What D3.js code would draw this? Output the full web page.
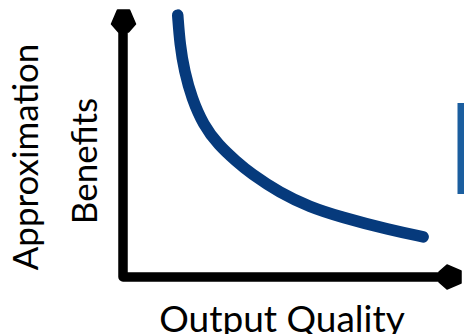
<!DOCTYPE html>
<html>
<head>
<meta charset="utf-8">
<script src="https://cdn.jsdelivr.net/npm/d3@7"></script>
<style>
  body { margin: 0; background: #fff; }
  svg { display: block; }
  .label { font-family: Lato, "Noto Sans", sans-serif; font-size: 35px; fill: #000; }
  .xtitle { font-size: 37px; }
</style>
</head>
<body>
<svg width="464" height="334"></svg>
<script>
// output quality vs approximation benefits (0-100 scale)
const quality = [17.1, 17.8, 19.2, 21.5, 25.1, 29.8, 35.5, 39.7, 49.1, 58.4, 67.8, 83.4, 93.8];
const benefit = [99.2, 87.9, 77.8, 67.7, 57.6, 50.0, 43.7, 39.4, 31.8, 26.5, 22.8, 17.8, 15.2];
const xTitle = "Output Quality";
const yTitle = ["Approximation", "Benefits"];

const svg = d3.select("svg");

const x = d3.scaleLinear().domain([0, 100]).range([123, 443]);
const y = d3.scaleLinear().domain([0, 100]).range([277, 13]);

// axes: one L shaped stroke with a rounded corner
const axisPath = d3.path();
axisPath.moveTo(x(0), y(93));
axisPath.lineTo(x(0), y(0));
axisPath.lineTo(x(99), y(0));
svg.append("path")
  .attr("d", axisPath.toString())
  .attr("fill", "none")
  .attr("stroke", "#000")
  .attr("stroke-width", 9.5)
  .attr("stroke-linejoin", "round");

// arrowheads (office style blunt diamond)
const head = "M-6,0 L6,0 L12,14 L5,22 L-5,22 L-12,14 Z";
svg.append("path")
  .attr("d", head)
  .attr("transform", `translate(${x(0) + 0.5},10)`)
  .attr("fill", "#000")
  .attr("stroke", "#000")
  .attr("stroke-width", 1.5)
  .attr("stroke-linejoin", "round");
svg.append("path")
  .attr("d", head)
  .attr("transform", `translate(461,${y(0)}) rotate(90)`)
  .attr("fill", "#000")
  .attr("stroke", "#000")
  .attr("stroke-width", 1.5)
  .attr("stroke-linejoin", "round");

// the curve, smoothed
const line = d3.line()
  .x((d, i) => x(quality[i]))
  .y((d) => y(d))
  .curve(d3.curveBasis);

svg.append("path")
  .datum(benefit)
  .attr("d", line)
  .attr("fill", "none")
  .attr("stroke", "#063a7c")
  .attr("stroke-width", 11.5)
  .attr("stroke-linecap", "round");

// cut off blue box at the right edge
svg.append("rect")
  .attr("x", 457.5)
  .attr("y", 103)
  .attr("width", 10)
  .attr("height", 91)
  .attr("fill", "#1b5e9f");

// titles
svg.append("text")
  .attr("class", "label xtitle")
  .attr("text-anchor", "middle")
  .attr("transform", "translate(282,331.5)")
  .text(xTitle);

svg.selectAll(".ytitle")
  .data(yTitle)
  .enter()
  .append("text")
  .attr("class", "label ytitle")
  .attr("text-anchor", "middle")
  .attr("transform", (d, i) => `translate(${i === 0 ? 38 : 97},${i === 0 ? 157 : 161}) rotate(-90)`)
  .text((d) => d);
</script>
</body>
</html>
